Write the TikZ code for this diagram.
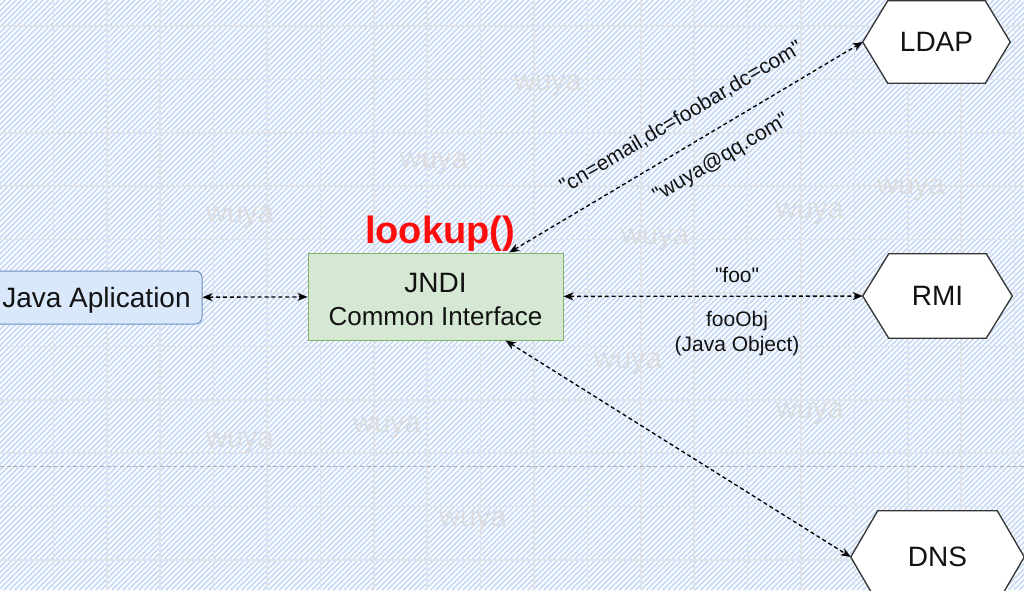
\documentclass[tikz,border=0pt]{standalone}
\usepackage{fontspec}
\setmainfont{Liberation Sans}[Ligatures=TeXOff]
\usetikzlibrary{arrows.meta}
\pgfdeclarelayer{bg}
\pgfsetlayers{bg,main}
\definecolor{hatchc}{RGB}{202,219,248}
\definecolor{gridc}{RGB}{224,228,234}
\definecolor{pagec}{RGB}{170,172,176}
\definecolor{javaf}{RGB}{218,232,252}
\definecolor{javad}{RGB}{108,142,191}
\definecolor{jndif}{RGB}{213,232,212}
\definecolor{jndid}{RGB}{130,179,102}
\definecolor{hexd}{RGB}{54,54,54}
\definecolor{wmc}{RGB}{220,221,224}
\definecolor{txt}{RGB}{18,18,18}
\definecolor{lookc}{RGB}{255,12,12}
\tikzset{
  hatchline/.style={draw=hatchc, line width=1.35pt},
  gridline/.style={draw=gridc, line width=1.1pt},
  pageline/.style={draw=pagec, line width=0.8pt, dash pattern=on 3pt off 2pt},
  wm/.style={text=wmc, font=\fontsize{21.75}{24}\selectfont, inner sep=0pt},
  javabox/.style={draw=javad, fill=javaf, line width=0.75pt, rounded corners=5pt,
    minimum width=158.25pt, minimum height=39.75pt, inner sep=0pt, text=txt,
    text height=15.2pt, text depth=0pt,
    font=\fontsize{21}{25}\selectfont},
  jndibox/.style={draw=jndid, fill=jndif, line width=0.75pt,
    minimum width=191.25pt, minimum height=65.25pt, inner sep=0pt, text=txt,
    align=center, font=\fontsize{19.5}{24.75}\selectfont},
  hexnode/.style={inner sep=0pt, text=txt, font=\fontsize{21}{25}\selectfont},
  hexline/.style={draw=hexd, fill=white, line width=1pt, line join=miter},
  lookup/.style={text=lookc, font=\fontsize{28.5}{32}\selectfont\bfseries, inner sep=0pt},
  lab/.style={text=txt, font=\fontsize{15.75}{18.75}\selectfont, inner sep=0pt},
  conn/.style={draw=black, line width=1pt, dash pattern=on 3pt off 2.2pt,
    {Stealth[length=7.5pt,width=6pt,inset=2.2pt]}-{Stealth[length=7.5pt,width=6pt,inset=2.2pt]}},
}
\newcommand{\hexoutline}[2]{%
  \path[hexline] (#1.west) -- ([xshift=#2]#1.north west) -- ([xshift=-#2]#1.north east)
    -- (#1.east) -- ([xshift=-#2]#1.south east) -- ([xshift=#2]#1.south west) -- cycle;}
\begin{document}
\begin{tikzpicture}[x=0.75pt,y=-0.75pt]
\useasboundingbox (0,0) rectangle (1024,590);
\begin{pgfonlayer}{bg}
  \begin{scope}
    \clip (0,0) rectangle (1024,590);
    \fill[white] (0,0) rectangle (1024,590);
    \foreach \i in {0,...,300} \draw[hatchline] ({\i*5.4-590},590) -- ({\i*5.4},0);
    \foreach \k in {1,...,19} \draw[gridline] ({\k*53.4},0) -- ({\k*53.4},590);
    \foreach \k in {0,...,10} \draw[gridline] (0,{26+\k*53.4}) -- (1024,{26+\k*53.4});
    \draw[pageline] (0,466.7) -- (1024,466.7);
  \end{scope}
\end{pgfonlayer}

% watermarks
\node[wm] (w1) at (548,86) {wuya};
\node[wm] (w2) at (434,164) {wuya};
\node[wm] (w3) at (240,218) {wuya};
\node[wm] (w4) at (911,190) {wuya};
\node[wm] (w5) at (810,214) {wuya};
\node[wm] (w6) at (655,240) {wuya};
\node[wm] (w7) at (628,364) {wuya};
\node[wm] (w8) at (810,414) {wuya};
\node[wm] (w9) at (240,443) {wuya};
\node[wm] (w10) at (387,428) {wuya};
\node[wm] (w11) at (473,522) {wuya};

% main nodes
\node[javabox] (java) at (96.5,297.5) {Java Aplication};
\node[jndibox] (jndi) at (435.5,296.5) {{\fontsize{21}{24.75}\selectfont\rule{0pt}{19.5pt}JNDI}\\Common Interface};
\node[lookup, anchor=base] (look) at (440,243) {lookup()};
\node[hexnode, minimum width=110.25pt, minimum height=61.5pt] (ldap) at (936.5,42) {LDAP};
\node[hexnode, minimum width=111.75pt, minimum height=63pt] (rmi) at (937.5,296) {RMI};
\node[hexnode, minimum width=129.75pt, minimum height=69pt] (dns) at (937.5,557) {DNS};

\begin{pgfonlayer}{bg}
  \hexoutline{ldap}{18.75pt}
  \hexoutline{rmi}{19.5pt}
  \hexoutline{dns}{20.25pt}
\end{pgfonlayer}

% connectors
\draw[conn] (java) -- (jndi);
\draw[conn] (jndi) -- (rmi)
  node[lab, pos=0.58, above=9.5pt] (foo) {"foo"}
  node[lab, pos=0.58, below=10.5pt, align=center] (fooobj) {fooObj\\(Java Object)};
\draw[conn] (jndi) -- (ldap.west)
  node[lab, sloped, pos=0.527, above=14pt] (cn) {"cn=email,dc=foobar,dc=com"}
  node[lab, sloped, pos=0.56, below=12.9pt] (qq) {"wuya@qq.com"};
\draw[conn] (jndi) -- (dns.west);
\end{tikzpicture}
\end{document}
